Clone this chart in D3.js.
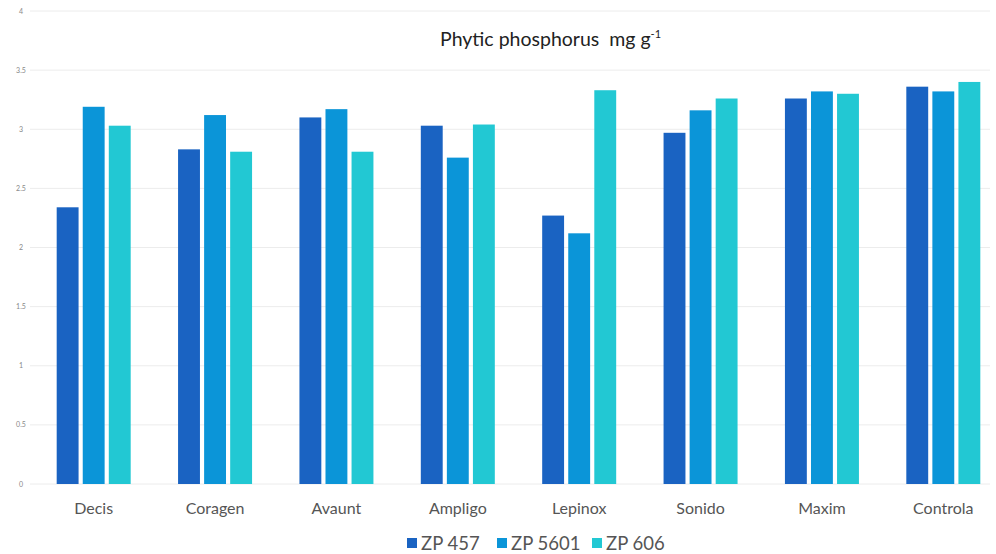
<!DOCTYPE html>
<html><head><meta charset="utf-8">
<script src="https://cdn.jsdelivr.net/npm/d3@7"></script>
<style>body{margin:0;background:#fff}svg{display:block;font-family:Lato,"Open Sans",sans-serif}</style>
</head><body><svg id="c" width="996" height="554"></svg>
<script>
const categories = ["Decis","Coragen","Avaunt","Ampligo","Lepinox","Sonido","Maxim","Controla"];
const seriesNames = ["ZP 457","ZP 5601","ZP 606"];
const zp457  = [2.34, 2.83, 3.10, 3.03, 2.27, 2.97, 3.26, 3.36];
const zp5601 = [3.19, 3.12, 3.17, 2.76, 2.12, 3.16, 3.32, 3.32];
const zp606  = [3.03, 2.81, 2.81, 3.04, 3.33, 3.26, 3.30, 3.40];
const yTicks = [0, 0.5, 1, 1.5, 2, 2.5, 3, 3.5, 4];
const colors = ["#1a63c2", "#0b95d8", "#22c8d3"];
const values = [zp457, zp5601, zp606];

const svg = d3.select("#c");
const y = d3.scaleLinear().domain([0, 4]).range([484, 11]);
const x0 = d3.scaleBand().domain(categories).range([33, 1004]).padding(0);
const x1 = d3.scaleBand().domain(seriesNames).range([0, 74]).paddingInner(0.16);
const gOff = (x0.bandwidth() - 74) / 2;

// gridlines
svg.append("g").selectAll("line").data(yTicks).join("line")
  .attr("x1", 30).attr("x2", 990)
  .attr("y1", d => y(d)).attr("y2", d => y(d))
  .attr("stroke", "#ececec").attr("stroke-width", 1);

// y tick labels
svg.append("g").selectAll("text").data(yTicks).join("text")
  .attr("x", 21).attr("y", d => y(d) + 2.5)
  .attr("text-anchor", "middle").attr("font-size", 7).attr("fill", "#888")
  .text(d => d);

// bars
const groups = svg.append("g").selectAll("g").data(categories).join("g")
  .attr("transform", c => `translate(${x0(c) + gOff},0)`);
groups.selectAll("rect").data((c, i) => seriesNames.map((s, j) => ({s, j, v: values[j][i]})))
  .join("rect")
  .attr("x", d => x1(d.s)).attr("width", x1.bandwidth())
  .attr("y", d => y(d.v)).attr("height", d => y(0) - y(d.v))
  .attr("fill", d => colors[d.j]);

// category labels
svg.append("g").selectAll("text").data(categories).join("text")
  .attr("x", c => x0(c) + x0.bandwidth() / 2).attr("y", 514)
  .attr("text-anchor", "middle").attr("font-size", 16).attr("fill", "#555")
  .text(c => c);

// title
const t = svg.append("text").attr("x", 440).attr("y", 46).attr("text-anchor", "start")
  .attr("font-size", 19.5).attr("fill", "#222").style("white-space", "pre");
t.append("tspan").text("Phytic phosphorus  mg g");
t.append("tspan").attr("font-size", 11).attr("dy", -8).text("-1");

// legend
const legX = [407, 497, 592];
const leg = svg.append("g").selectAll("g").data(seriesNames).join("g")
  .attr("transform", (d, i) => `translate(${legX[i]},536)`);
leg.append("rect").attr("width", 10).attr("height", 10).attr("y", 2).attr("fill", (d, i) => colors[i]);
leg.append("text").attr("x", 14).attr("y", 13.5).attr("font-size", 18.5).attr("fill", "#555").text(d => d);
</script></body></html>
